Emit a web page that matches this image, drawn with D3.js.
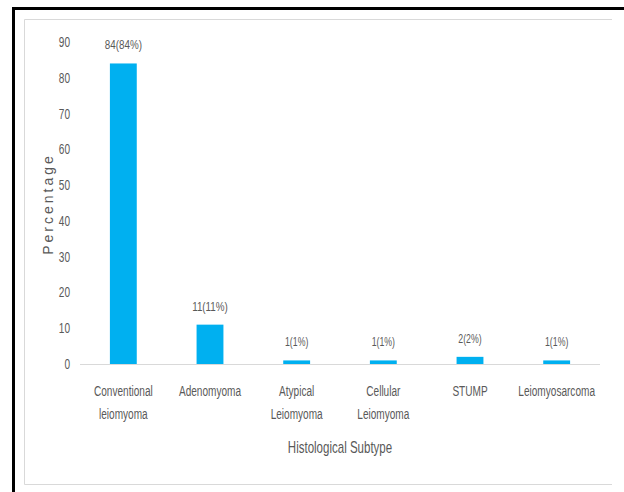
<!DOCTYPE html>
<html>
<head>
<meta charset="utf-8">
<script src="https://cdn.jsdelivr.net/npm/d3@7"></script>
<style>
  body { margin: 0; background: #fff; }
  text { font-family: "Liberation Sans", Arial, sans-serif; fill: #595959; }
</style>
</head>
<body>
<svg id="chart" width="624" height="492"></svg>
<script>
// chart values
let categories = ["Conventional\nleiomyoma", "Adenomyoma", "Atypical\nLeiomyoma",
                  "Cellular\nLeiomyoma", "STUMP", "Leiomyosarcoma"];
let counts = [84, 11, 1, 1, 2, 1];
let percents = [84, 11, 1, 1, 2, 1];
let yTicks = [0, 10, 20, 30, 40, 50, 60, 70, 80, 90];

let svg = d3.select("#chart");

// frame: black on top and left, light grey box inside (no right side)
svg.append("path")
   .attr("d", "M13.5,492V8.5H624")
   .attr("fill", "none").attr("stroke", "#000").attr("stroke-width", 3);
svg.append("path")
   .attr("d", "M612,19.5H24.5V484.5H612")
   .attr("fill", "none").attr("stroke", "#d9d9d9").attr("stroke-width", 1);

let x = d3.scaleBand()
          .domain(categories)
          .range([80, 600])
          .paddingInner(0.69)
          .paddingOuter(0.345);

let y = d3.scaleLinear()
          .domain([0, 90])
          .range([364, 42]);

// narrow text helper: the reference uses a condensed face
function narrow(sel, sx) {
  return sel.attr("transform", function() {
    let t = d3.select(this);
    let tx = +t.attr("data-x"), ty = +t.attr("data-y");
    return "translate(" + tx + "," + ty + ") scale(" + sx + ",1)";
  });
}

// y tick labels
svg.selectAll(".ytick")
   .data(yTicks)
   .enter()
   .append("text")
   .attr("class", "ytick")
   .attr("data-x", 70)
   .attr("data-y", d => y(d) + 5)
   .attr("text-anchor", "end")
   .attr("font-size", 14)
   .text(d => d)
   .call(narrow, 0.72);

// bars
svg.selectAll(".bar")
   .data(categories)
   .enter()
   .append("rect")
   .attr("class", "bar")
   .attr("x", d => x(d))
   .attr("width", x.bandwidth())
   .attr("y", (d, i) => y(percents[i]))
   .attr("height", (d, i) => y(0) - y(percents[i]))
   .attr("fill", "#00b0f0");

// baseline
svg.append("line")
   .attr("x1", 80).attr("x2", 600)
   .attr("y1", y(0) + 0.5).attr("y2", y(0) + 0.5)
   .attr("stroke", "#d9d9d9");

// data labels
svg.selectAll(".lbl")
   .data(categories)
   .enter()
   .append("text")
   .attr("class", "lbl")
   .attr("data-x", d => x(d) + x.bandwidth() / 2)
   .attr("data-y", (d, i) => y(percents[i]) - 14)
   .attr("text-anchor", "middle")
   .attr("font-size", (d, i) => i < 2 ? 13.5 : 12)
   .text((d, i) => counts[i] + "(" + percents[i] + "%)")
   .call(narrow, 0.73);

// category labels
categories.forEach(c => {
  c.split("\n").forEach((line, j) => {
    svg.append("text")
       .attr("data-x", x(c) + x.bandwidth() / 2)
       .attr("data-y", 396 + j * 23)
       .attr("text-anchor", "middle")
       .attr("font-size", 15.5)
       .text(line)
       .call(narrow, 0.65);
  });
});

// axis titles
svg.append("text")
   .attr("data-x", 340).attr("data-y", 453)
   .attr("text-anchor", "middle")
   .attr("font-size", 16)
   .text("Histological Subtype")
   .call(narrow, 0.72);

svg.append("text")
   .attr("transform", "translate(53,204) rotate(-90)")
   .attr("text-anchor", "middle")
   .attr("font-size", 14)
   .attr("letter-spacing", 3)
   .text("Percentage");
</script>
</body>
</html>
